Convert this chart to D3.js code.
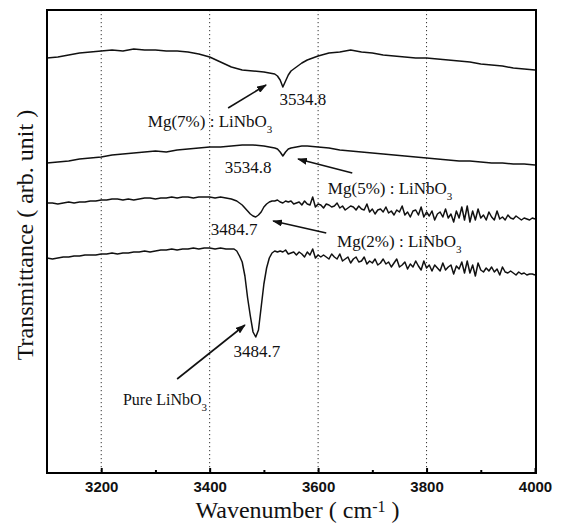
<!DOCTYPE html>
<html lang="en">
<head>
  <meta charset="UTF-8">
  <title>Transmittance of Mg:LiNbO3</title>
  <style>
    body { margin: 0; padding: 0; background: #fff; }
    svg { display: block; }
    .spectrum { fill: none; stroke: #111; stroke-width: 1.5px; stroke-linejoin: round; }
    .grid line { stroke: #333; stroke-width: 1px; stroke-dasharray: 1.2, 2.8; }
    .frame { fill: none; stroke: #000; stroke-width: 2px; }
    .axis text { font-family: "Liberation Sans", Arial, sans-serif; font-size: 15px; font-weight: bold; fill: #111; }
    .axis line { stroke: #000; stroke-width: 2px; }
    .axis path { display: none; }
    .axis-title { font-family: "Liberation Serif", "Times New Roman", serif; font-size: 24px; fill: #111; }
    .note { font-family: "Liberation Serif", "Times New Roman", serif; fill: #111; }
    .arrow { stroke: #111; stroke-width: 1.6px; }
  </style>
</head>
<body>
  <div class="chart"></div>

  <script src="https://d3js.org/d3.v7.min.js"></script>
  <script>
    // wavenumber grids (cm-1)
    const wnSmooth = [3100, 3120, 3140, 3160, 3180, 3200, 3220, 3240, 3260, 3280, 3300, 3320, 3340, 3360, 3380,
      3400, 3420, 3440, 3460, 3480, 3500, 3510, 3520, 3525, 3530, 3535, 3540, 3545, 3550, 3560, 3570, 3580,
      3600, 3620, 3640, 3660, 3680, 3700, 3720, 3740, 3760, 3780, 3800, 3820, 3840, 3860, 3880, 3900,
      3920, 3940, 3960, 3980, 4000];
    const wnNoisy = d3.range(3100, 3450, 10).concat(d3.range(3445, 4001, 5));

    // transmittance, arb. units (curves stacked)
    const mg7 = [415, 416, 418, 420, 421, 422, 423, 422, 424, 423, 423, 422, 422, 421, 419,
      416, 411, 406, 403, 402, 401, 400, 399, 397, 393, 386, 392, 398, 402, 406, 410, 413,
      417, 420, 421, 423, 421, 420, 418, 417, 416, 415, 415, 414, 413, 412, 411, 409,
      408, 407, 405, 404, 403];
    const mg5 = [310, 311, 312, 314, 315, 316, 318, 319, 320, 321, 322, 321, 323, 324, 325,
      326, 326, 327, 328, 328, 327, 326, 325, 324, 321, 317, 321, 324, 325, 326, 327, 327,
      326, 325, 323, 322, 321, 320, 319, 318, 317, 316, 315, 314, 313, 312, 312, 311,
      310, 310, 309, 309, 308];
    const mg2 = [
      270, 270, 269, 270, 271, 270, 271, 271, 272, 272, 273, 273, 274, 274, 273, 274, 273, 274,
      275, 275, 274, 275, 275, 276, 275, 276, 276, 275, 276, 276, 276, 275, 276, 275, 274,
      273, 272, 270, 268, 265, 262, 259, 257, 256, 258, 261, 266, 269, 271, 272,
      272, 273, 271, 270, 272, 271, 272, 269, 270, 271, 268, 272, 269, 268, 276, 266, 269,
      268, 265, 269, 268, 266, 267, 270, 265, 267, 263, 265, 267, 266, 263, 267, 264, 263, 269, 261, 264,
      259, 263, 264, 261, 266, 260, 262, 258, 263, 261, 267, 258, 261, 256, 262, 263, 258, 266, 256, 261,
      257, 262, 253, 259, 261, 256, 264, 255, 259, 251, 262, 255, 266, 253, 267, 251, 262, 253, 264, 255,
      258, 253, 261, 256, 253, 262, 254, 256, 253, 258, 255, 254, 257, 255, 253, 255, 254, 253, 255, 254];
    const pure = [
      215, 214, 215, 216, 216, 217, 217, 218, 218, 218, 219, 219, 220, 219, 220, 220, 221, 221,
      222, 221, 222, 223, 223, 224, 223, 224, 224, 225, 224, 225, 225, 224, 225, 224, 224,
      224, 222, 217, 211, 197, 175, 157, 141, 136, 143, 166, 189, 205, 215, 220,
      222, 221, 222, 221, 223, 219, 220, 221, 218, 221, 219, 216, 221, 218, 224, 215, 218,
      216, 218, 216, 214, 219, 216, 214, 219, 212, 214, 216, 210, 214, 216, 211, 212, 216, 209, 212, 210,
      214, 208, 210, 214, 209, 211, 206, 210, 214, 206, 208, 211, 204, 209, 206, 212, 207, 203, 212, 205,
      208, 202, 208, 205, 202, 210, 203, 206, 208, 199, 207, 204, 211, 200, 212, 200, 208, 197, 210, 203,
      201, 205, 202, 206, 201, 204, 198, 206, 201, 200, 202, 200, 198, 201, 199, 200, 198, 199, 199, 198];

    const majorTicks = [3200, 3400, 3600, 3800, 4000];
    const minorTicks = [3300, 3500, 3700, 3900];
    const gridTicks = [3200, 3400, 3600, 3800];

    // peak labels: [text, wavenumber, transmittance]
    const peakLabels = [
      ["3534.8", 3572, 368],
      ["3534.8", 3471, 300],
      ["3484.7", 3445, 238],
      ["3484.7", 3487, 116]
    ];
    // sample labels: [name, wavenumber, transmittance]
    const sampleLabels = [
      ["Mg(7%) : LiNbO", 3286, 346],
      ["Mg(5%) : LiNbO", 3618, 279],
      ["Mg(2%) : LiNbO", 3635, 226],
      ["Pure LiNbO", 3240, 68]
    ];
    // arrows: [wn from, T from, wn to, T to]
    const arrows = [
      [3434, 365, 3504, 388],
      [3663, 300, 3563, 314],
      [3615, 240, 3517, 252],
      [3340, 94, 3465, 148]
    ];

    const W = 564, H = 529;
    const plot = { left: 47, right: 536, top: 10, bottom: 473 };

    const svg = d3.select(".chart").append("svg")
      .attr("width", W)
      .attr("height", H);

    const x = d3.scaleLinear().domain([3100, 4000]).range([plot.left, 535]);
    const y = d3.scaleLinear().domain([0, 464]).range([plot.bottom, plot.top - 1]);

    // arrow head
    svg.append("defs").append("marker")
      .attr("id", "head")
      .attr("viewBox", "0 0 10 7")
      .attr("refX", 9).attr("refY", 3.5)
      .attr("markerUnits", "userSpaceOnUse")
      .attr("markerWidth", 10).attr("markerHeight", 7)
      .attr("orient", "auto")
      .append("path")
      .attr("d", "M0,0 L10,3.5 L0,7 Z")
      .attr("fill", "#111");

    // dotted grid
    svg.append("g").attr("class", "grid")
      .selectAll("line").data(gridTicks).join("line")
      .attr("x1", d => x(d)).attr("x2", d => x(d))
      .attr("y1", plot.top).attr("y2", plot.bottom);

    // spectra
    const line = d3.line().x(d => x(d[0])).y(d => y(d[1]));
    const series = [
      [wnSmooth, mg7], [wnSmooth, mg5], [wnNoisy, mg2], [wnNoisy, pure]
    ];
    series.forEach(([wn, vals]) => {
      svg.append("path")
        .datum(wn.map((w, i) => [w, vals[i]]))
        .attr("class", "spectrum")
        .attr("d", line);
    });

    // frame
    svg.append("rect").attr("class", "frame")
      .attr("x", plot.left).attr("y", plot.top)
      .attr("width", plot.right - plot.left)
      .attr("height", plot.bottom - plot.top);

    // x axis, ticks pointing inward
    svg.append("g").attr("class", "axis")
      .attr("transform", `translate(0,${plot.bottom})`)
      .call(d3.axisBottom(x).tickValues(majorTicks).tickSizeInner(-5).tickSizeOuter(0).tickPadding(8)
        .tickFormat(d3.format("d")));
    svg.append("g").attr("class", "axis")
      .attr("transform", `translate(0,${plot.bottom})`)
      .call(d3.axisBottom(x).tickValues(minorTicks).tickSizeInner(-3).tickSizeOuter(0).tickFormat(""));

    // axis titles
    const xt = svg.append("text").attr("class", "axis-title")
      .attr("text-anchor", "middle")
      .attr("x", (plot.left + plot.right) / 2 + 6)
      .attr("y", 518);
    xt.append("tspan").text("Wavenumber ( cm");
    xt.append("tspan").attr("dy", -6).style("font-size", "16px").text("-1");
    xt.append("tspan").attr("dy", 6).text(" )");

    svg.append("text").attr("class", "axis-title")
      .attr("text-anchor", "middle")
      .attr("transform", "rotate(-90)")
      .attr("x", -235)
      .attr("y", 33)
      .text("Transmittance ( arb. unit )");

    // arrows
    svg.append("g").selectAll("line").data(arrows).join("line")
      .attr("class", "arrow")
      .attr("x1", d => x(d[0])).attr("y1", d => y(d[1]))
      .attr("x2", d => x(d[2])).attr("y2", d => y(d[3]))
      .attr("marker-end", "url(#head)");

    // peak position labels
    svg.append("g").selectAll("text").data(peakLabels).join("text")
      .attr("class", "note")
      .attr("text-anchor", "middle")
      .style("font-size", "17px")
      .attr("x", d => x(d[1])).attr("y", d => y(d[2]))
      .text(d => d[0]);

    // sample labels with subscript 3
    svg.append("g").selectAll("text").data(sampleLabels).join("text")
      .attr("class", "note")
      .style("font-size", (d, i) => i === 3 ? "16px" : "17px")
      .attr("x", d => x(d[1])).attr("y", d => y(d[2]))
      .each(function(d) {
        const t = d3.select(this);
        t.append("tspan").text(d[0]);
        t.append("tspan").attr("dy", 6).style("font-size", "11px").text("3");
      });
  </script>
</body>
</html>
